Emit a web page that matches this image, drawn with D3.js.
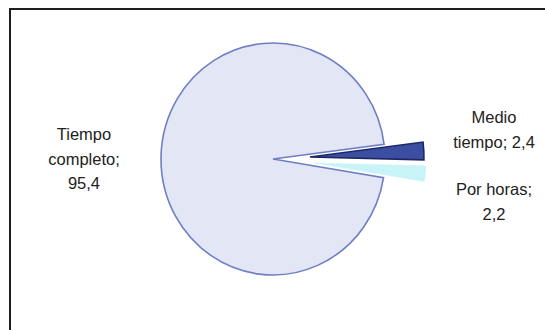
<!DOCTYPE html>
<html>
<head>
<meta charset="utf-8">
<script src="https://cdn.jsdelivr.net/npm/d3@7/dist/d3.min.js"></script>
<style>
  html, body { margin: 0; padding: 0; background: #ffffff; }
  svg { display: block; }
</style>
</head>
<body>
<script>
// Jornada laboral: distribución (%)
const categories = ["Tiempo completo", "Medio tiempo", "Por horas"];
const values = [95.4, 2.4, 2.2];

// Appearance
const fills   = ["#e3e6f4", "#3b4ea0", "#c8f3f7"];
const strokes = ["#6f7fc3", "#1d2768", "#c8f3f7"];
const explode = [0, 37, 42];          // pixel offset of each slice from the centre
const outerR  = [112, 114, 111];
const W = 545, H = 330;
const cx = 273, cy = 159, squashY = 116 / 112;

const svg = d3.select("body").append("svg")
  .attr("width", W).attr("height", H);

// frame
svg.append("rect")
  .attr("x", 10).attr("y", 9)
  .attr("width", W + 20).attr("height", H + 20)
  .attr("fill", "#ffffff")
  .attr("stroke", "#1e1e1e").attr("stroke-width", 2);

const small = (values[1] + values[2]) / d3.sum(values);
const start = Math.PI / 2 + small * Math.PI + Math.PI / 180;

const pie = d3.pie().sort(null)
  .startAngle(start).endAngle(start + 2 * Math.PI);
const arcs = pie(values);

const g = svg.append("g")
  .attr("transform", `translate(${cx},${cy}) scale(1,${squashY})`);

g.selectAll("path")
  .data(arcs)
  .join("path")
  .attr("d", (d, i) => d3.arc().innerRadius(0).outerRadius(outerR[i])(d))
  .attr("transform", (d, i) => {
    const mid = (d.startAngle + d.endAngle) / 2;
    return `translate(${Math.sin(mid) * explode[i]},${-Math.cos(mid) * explode[i]})`;
  })
  .attr("fill", (d, i) => fills[i])
  .attr("stroke", (d, i) => strokes[i])
  .attr("stroke-width", (d, i) => i === 2 ? 0.5 : 1.6)
  .attr("stroke-linejoin", "miter")
  .attr("vector-effect", "non-scaling-stroke");

// data labels: "name; value", wrapped
const fmt = v => d3.format(".1f")(v).replace(".", ",");
function wrap(text, maxChars) {
  const words = text.split(" ");
  const lines = [];
  let cur = "";
  words.forEach(w => {
    const next = cur ? cur + " " + w : w;
    if (next.length > maxChars && cur) { lines.push(cur); cur = w; }
    else cur = next;
  });
  if (cur) lines.push(cur);
  return lines;
}

const labelPos = [
  { x: 84,  y: 140 },
  { x: 494, y: 123 },
  { x: 494, y: 195 }
];
const lineH = 24.5;

categories.forEach((c, i) => {
  const lines = wrap(`${c}; ${fmt(values[i])}`, 11);
  const t = svg.append("text")
    .attr("text-anchor", "middle")
    .attr("font-family", "'Liberation Sans', Arial, sans-serif")
    .attr("font-size", 16.5)
    .attr("fill", "#222222");
  lines.forEach((ln, k) => {
    t.append("tspan")
      .attr("x", labelPos[i].x)
      .attr("y", labelPos[i].y + k * lineH)
      .text(ln);
  });
});
</script>
</body>
</html>
